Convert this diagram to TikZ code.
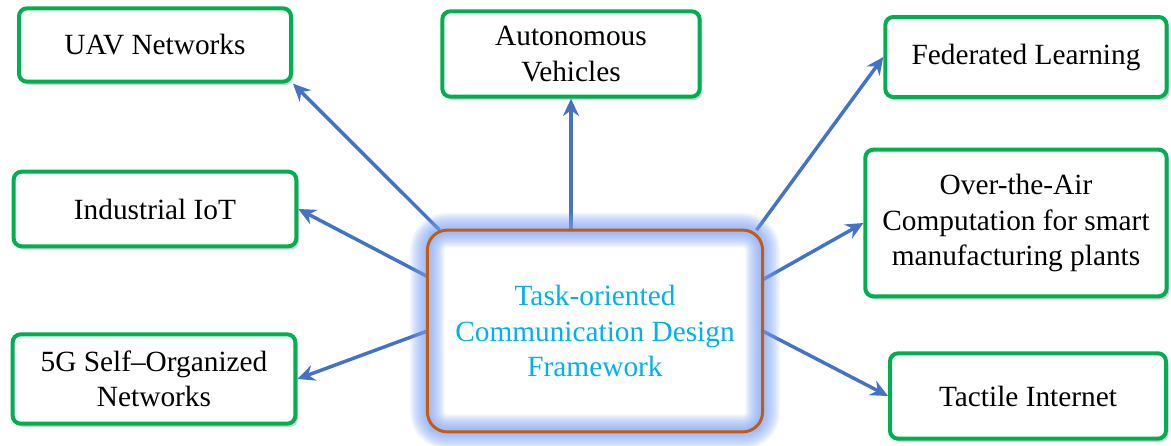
\documentclass[tikz,border=0pt]{standalone}
\usepackage{fontspec}
\setmainfont{Liberation Serif}
\usetikzlibrary{shadows,arrows.meta}

\definecolor{boxgreen}{RGB}{0,176,80}
\definecolor{arrowblue}{RGB}{68,114,196}
\definecolor{coreorange}{RGB}{197,90,17}
\definecolor{coretext}{RGB}{0,176,240}
\definecolor{glowblue}{RGB}{120,160,245}

\tikzset{
  appbox/.style={draw=boxgreen, line width=3pt, rounded corners=6pt, fill=white,
    align=center, font=\fontsize{22}{26.5}\selectfont,
    drop shadow={shadow xshift=2pt, shadow yshift=-2.5pt, opacity=0.35}},
  link/.style={draw=arrowblue, line width=2.6pt, -{Stealth[length=13pt,width=12pt]}}
}

\begin{document}
\begin{tikzpicture}[x=0.75pt,y=-0.75pt]
  \useasboundingbox (0,0) rectangle (1171,446);

  % application boxes
  \node[appbox, minimum width=204pt, minimum height=55pt] (uav) at (155,45) {UAV Networks};
  \node[appbox, minimum width=193pt, minimum height=64pt] (auto) at (571,54) {Autonomous\\Vehicles};
  \node[appbox, minimum width=211pt, minimum height=60pt] (fl) at (1026,57) {Federated Learning};
  \node[appbox, minimum width=212pt, minimum height=56pt] (iiot) at (155,209) {Industrial IoT};
  \node[appbox, minimum width=226pt, minimum height=110pt] (ota) at (1016,223) {Over-the-Air\\Computation for smart\\manufacturing plants};
  \node[appbox, minimum width=212pt, minimum height=67pt] (son) at (154,379) {5G Self–Organized\\Networks};
  \node[appbox, minimum width=207pt, minimum height=64pt] (tactile) at (1028,396) {Tactile Internet};

  % framework box with glow
  \node[fill=white, minimum width=251pt, minimum height=151pt, align=center,
    font=\fontsize{22}{26.5}\selectfont, text=coretext] (core) at (595,331)
    {Task-oriented\\Communication Design\\Framework};

  % links
  \draw[link] (core.147) -- (uav.south east);
  \draw[link] (core.162) -- (iiot.east);
  \draw[link] (core.west) -- (son.east);
  \draw[link] (auto.south |- core.north) -- (auto.south);
  \draw[link] (core.32) -- (fl.west);
  \draw[link] (core.17) -- (ota.west);
  \draw[link] (core.east) -- (tactile.west);

  \foreach \w in {2,4,...,26}
    \draw[glowblue, opacity=0.09, line width=\w pt, rounded corners=15pt] (core.south west) rectangle (core.north east);
  \draw[coreorange, line width=2.2pt, rounded corners=15pt] (core.south west) rectangle (core.north east);
\end{tikzpicture}
\end{document}
